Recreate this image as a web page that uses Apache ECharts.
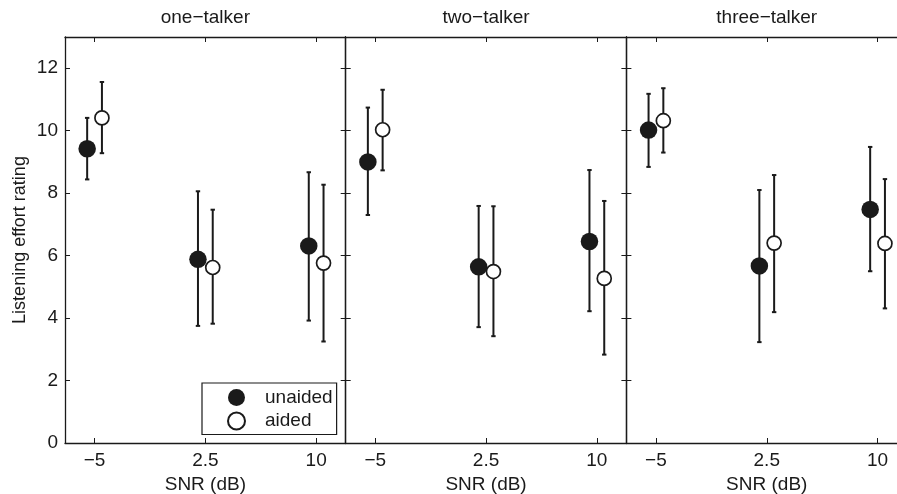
<!DOCTYPE html>
<html>
<head>
<meta charset="utf-8">
<script src="https://cdn.jsdelivr.net/npm/echarts@6/dist/echarts.min.js"></script>
<style>
  html, body { margin: 0; padding: 0; background: #ffffff; }
  #chart { width: 897px; height: 494px; }
</style>
</head>
<body>
<div id="chart"></div>
<script>
// Listening effort ratings by SNR, one panel per masker condition
const panelTitles = ['one\u2212talker', 'two\u2212talker', 'three\u2212talker'];
const snrValues = [-5, 2.5, 10];
const snrLabels = ['\u22125', '2.5', '10'];
const ratingTicks = [0, 2, 4, 6, 8, 10, 12];

// unaided: mean and error-bar limits, one row per panel, one column per SNR
const unaidedMean = [[9.42, 5.88, 6.31], [9.00, 5.64, 6.45], [10.02, 5.67, 7.48]];
const unaidedLow  = [[8.44, 3.75, 3.92], [7.30, 3.71, 4.22], [8.84, 3.23, 5.50]];
const unaidedHigh = [[10.41, 8.06, 8.67], [10.74, 7.59, 8.74], [11.18, 8.10, 9.48]];

// aided
const aidedMean = [[10.41, 5.62, 5.76], [10.03, 5.49, 5.27], [10.32, 6.40, 6.39]];
const aidedLow  = [[9.28, 3.82, 3.25], [8.73, 3.42, 2.83], [9.30, 4.19, 4.31]];
const aidedHigh = [[11.56, 7.47, 8.27], [11.31, 7.58, 7.75], [11.36, 8.58, 8.45]];

const INK = '#1a1a1a';
const FONT = '"Liberation Sans", Arial, Helvetica, sans-serif';
const FS = 19;
const DODGE = 0.5;           // horizontal offset of the two groups around each SNR
const PANEL_W = 280.7;
const PANEL_LEFT0 = 65;
const PANEL_TOP = 37;
const PANEL_H = 406;
const TITLE_PAD = 5;         // default title padding, offsets the centred text

const groups = [
  { name: 'unaided', mean: unaidedMean, low: unaidedLow, high: unaidedHigh, shift: -DODGE,
    itemStyle: { color: INK, borderColor: INK, borderWidth: 0, opacity: 1 }, size: 17.5 },
  { name: 'aided', mean: aidedMean, low: aidedLow, high: aidedHigh, shift: DODGE,
    itemStyle: { color: '#ffffff', borderColor: INK, borderWidth: 1.7, opacity: 1 }, size: 14 }
];

const grid = [], xAxis = [], yAxis = [], title = [];
const scatterSeries = [], barSeries = [];

function errorBar(params, api) {
  const x = api.value(0);
  const top = api.coord([x, api.value(2)]);
  const bot = api.coord([x, api.value(1)]);
  const cap = 2.2;
  const st = { stroke: INK, lineWidth: 2 };
  return {
    type: 'group',
    children: [
      { type: 'line', shape: { x1: top[0], y1: top[1], x2: bot[0], y2: bot[1] }, style: st },
      { type: 'line', shape: { x1: top[0] - cap, y1: top[1], x2: top[0] + cap, y2: top[1] }, style: st },
      { type: 'line', shape: { x1: bot[0] - cap, y1: bot[1], x2: bot[0] + cap, y2: bot[1] }, style: st }
    ]
  };
}

panelTitles.forEach((t, i) => {
  const left = PANEL_LEFT0 + i * PANEL_W;
  grid.push({
    left: left, top: PANEL_TOP, width: PANEL_W, height: PANEL_H,
    outerBoundsMode: 'none', containLabel: false
  });
  title.push({
    text: t, left: left + PANEL_W / 2 - TITLE_PAD, top: 3, textAlign: 'center',
    textStyle: { fontFamily: FONT, fontSize: FS, fontWeight: 'normal', color: INK }
  });

  const axisLine = { show: true, onZero: false, lineStyle: { color: INK, width: 1.3 } };
  const tick = { show: true, inside: true, length: 5, lineStyle: { color: INK, width: 1 } };

  // bottom x axis with labels
  xAxis.push({
    gridIndex: i, type: 'value', position: 'bottom', min: -7, max: 12,
    axisLine: axisLine,
    axisTick: Object.assign({ customValues: snrValues }, tick),
    axisLabel: {
      customValues: snrValues, margin: 8, fontFamily: FONT, fontSize: FS, color: INK,
      formatter: v => snrLabels[snrValues.indexOf(v)]
    },
    splitLine: { show: false },
    name: 'SNR (dB)', nameLocation: 'middle', nameGap: 28,
    nameTextStyle: { fontFamily: FONT, fontSize: FS, color: INK }
  });
  // top frame edge
  xAxis.push({
    gridIndex: i, type: 'value', position: 'top', min: -7, max: 12,
    axisLine: axisLine,
    axisTick: Object.assign({ customValues: snrValues }, tick),
    axisLabel: { show: false },
    splitLine: { show: false }
  });
  // left y axis (labels on the first panel only)
  yAxis.push(Object.assign({
    gridIndex: i, type: 'value', position: 'left', min: 0, max: 13,
    axisLine: axisLine,
    axisTick: Object.assign({ customValues: ratingTicks }, tick),
    axisLabel: {
      show: i === 0, customValues: ratingTicks, margin: 7,
      fontFamily: FONT, fontSize: FS, color: INK
    },
    splitLine: { show: false }
  }, i === 0 ? {
    name: 'Listening effort rating', nameLocation: 'middle', nameGap: 36, nameRotate: 90,
    nameTextStyle: { fontFamily: FONT, fontSize: 18, color: INK }
  } : {}));
  // right frame edge
  yAxis.push({
    gridIndex: i, type: 'value', position: 'right', min: 0, max: 13,
    axisLine: axisLine,
    axisTick: Object.assign({ customValues: ratingTicks }, tick),
    axisLabel: { show: false },
    splitLine: { show: false }
  });

  groups.forEach(g => {
    const pts = snrValues.map((s, j) => [s + g.shift, g.mean[i][j]]);
    const bars = snrValues.map((s, j) => [s + g.shift, g.low[i][j], g.high[i][j]]);
    scatterSeries.push({
      name: g.name, type: 'scatter', xAxisIndex: 2 * i, yAxisIndex: 2 * i,
      symbol: 'circle', symbolSize: g.size, itemStyle: g.itemStyle,
      data: pts, z: 4, silent: true
    });
    barSeries.push({
      name: g.name, type: 'custom', xAxisIndex: 2 * i, yAxisIndex: 2 * i,
      renderItem: errorBar, encode: { x: 0, y: [1, 2] },
      data: bars, z: 2, silent: true
    });
  });
});

const chart = echarts.init(document.getElementById('chart'), null, { renderer: 'canvas' });
chart.setOption({
  animation: false,
  backgroundColor: '#ffffff',
  title: title,
  grid: grid,
  xAxis: xAxis,
  yAxis: yAxis,
  legend: {
    data: ['unaided', 'aided'],
    orient: 'vertical',
    left: 202, top: 383,
    padding: [5, 4, 4, 25],
    itemGap: 4.5,
    itemWidth: 17, itemHeight: 17,
    icon: 'circle',
    borderColor: INK, borderWidth: 1.2,
    backgroundColor: '#ffffff',
    selectedMode: false,
    textStyle: { fontFamily: FONT, fontSize: FS, lineHeight: 19, color: INK, padding: [0, 0, 0, 15] }
  },
  series: scatterSeries.concat(barSeries)
});
</script>
</body>
</html>
